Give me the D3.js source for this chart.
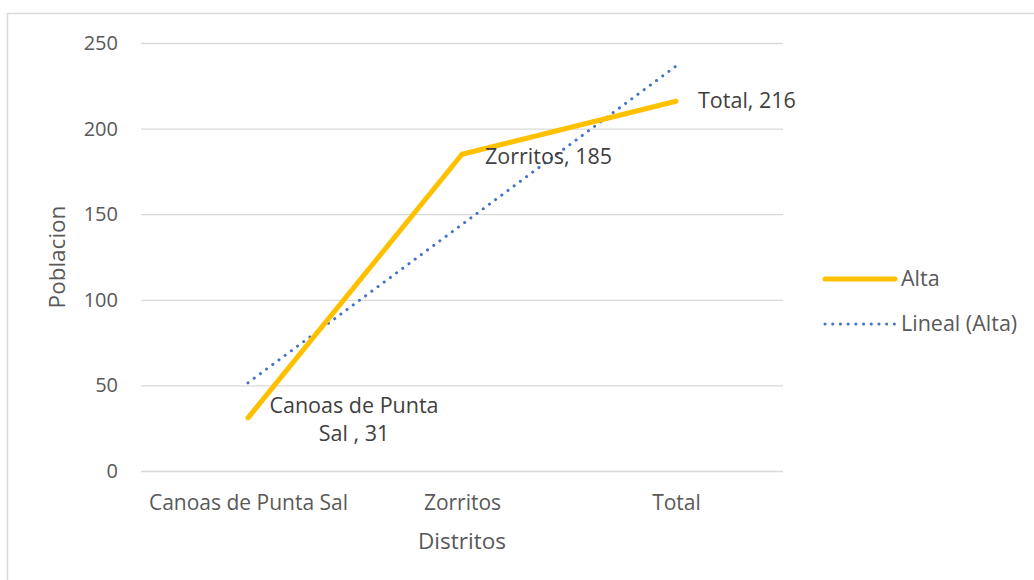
<!DOCTYPE html>
<meta charset="utf-8">
<html>
<head>
  <script src="https://d3js.org/d3.v7.min.js" charset="utf-8"></script>
</head>
<style>
* { font-family: "Open Sans", sans-serif; }
body { margin: 0; background-color: white; }
.tick text { fill: #595959; font-size: 20px; }
.xaxis .tick text { font-size: 21px; }
.label { fill: #595959; font-size: 22.5px; text-anchor: middle; }
.dlabel { fill: #404040; font-size: 21.5px; }
.legend { fill: #595959; font-size: 21.5px; }
</style>
<body>
<div id="container"></div>
<script>
var categories = ["Canoas de Punta Sal", "Zorritos", "Total"];
var alta = [31, 185, 216];
// trendline values (Lineal (Alta))
var trend = [51.5, 144, 236.5];
var yTicks = [0, 50, 100, 150, 200, 250];

var width = 1034, height = 580;
var margin = {left: 141, top: 43, right: 251, bottom: 109};

var svg = d3.select("#container").append("svg")
    .attr("width", width)
    .attr("height", height);

// chart frame
svg.append("rect")
   .attr("x", 7.5).attr("y", 13.5)
   .attr("width", width + 10).attr("height", height + 10)
   .attr("fill", "none").attr("stroke", "#d9d9d9").attr("stroke-width", 1.5);

var xScale = d3.scalePoint()
    .domain(categories)
    .range([margin.left, width - margin.right])
    .padding(0.5);

var yScale = d3.scaleLinear()
    .domain([0, 250])
    .range([height - margin.bottom, margin.top]);

// grid + y axis
var yAxis = d3.axisLeft(yScale).tickValues(yTicks)
    .tickSize(-(width - margin.left - margin.right)).tickPadding(23);
var gy = svg.append("g")
    .attr("transform", "translate(" + margin.left + ",0)")
    .call(yAxis);
gy.select(".domain").remove();
gy.selectAll(".tick line").attr("stroke", "#d9d9d9").attr("stroke-width", 1.3);

// x axis (labels only)
var xAxis = d3.axisBottom(xScale).tickSize(0).tickPadding(24);
var gx = svg.append("g")
    .attr("class", "xaxis")
    .attr("transform", "translate(0," + (height - margin.bottom) + ")")
    .call(xAxis);
gx.select(".domain").remove();

// trendline
var trendLine = d3.line()
    .x((d, i) => xScale(categories[i]))
    .y(d => yScale(d));
svg.append("path")
   .datum(trend)
   .attr("d", trendLine)
   .attr("fill", "none")
   .attr("stroke", "#4472c4")
   .attr("stroke-width", 3)
   .attr("stroke-linecap", "round")
   .attr("stroke-dasharray", "0.1 7.6");

// data series
var line = d3.line()
    .x((d, i) => xScale(categories[i]))
    .y(d => yScale(d));
svg.append("path")
   .datum(alta)
   .attr("d", line)
   .attr("fill", "none")
   .attr("stroke", "#ffc000")
   .attr("stroke-width", 5)
   .attr("stroke-linecap", "round")
   .attr("stroke-linejoin", "round");

// data labels
var c0 = xScale(categories[0]), c1 = xScale(categories[1]), c2 = xScale(categories[2]);
var lab0 = svg.append("text").attr("class", "dlabel").attr("text-anchor", "middle");
lab0.append("tspan").attr("x", c0 + 106).attr("y", yScale(alta[0]) - 5).text("Canoas de Punta");
lab0.append("tspan").attr("x", c0 + 106).attr("y", yScale(alta[0]) + 23).text("Sal , 31");
svg.append("text").attr("class", "dlabel")
   .attr("x", c1 + 23).attr("y", yScale(alta[1]) + 10)
   .text(categories[1] + ", " + alta[1]);
svg.append("text").attr("class", "dlabel")
   .attr("x", c2 + 22).attr("y", yScale(alta[2]) + 7)
   .text(categories[2] + ", " + alta[2]);

// axis titles
svg.append("text").attr("class", "label")
   .attr("x", margin.left + (width - margin.left - margin.right) / 2)
   .attr("y", 549)
   .text("Distritos");
svg.append("text").attr("class", "label")
   .attr("transform", "translate(65,257) rotate(-90)")
   .text("Poblacion");

// legend
var lx = 825;
svg.append("line").attr("x1", lx).attr("x2", lx + 70).attr("y1", 279).attr("y2", 279)
   .attr("stroke", "#ffc000").attr("stroke-width", 5).attr("stroke-linecap", "round");
svg.append("text").attr("class", "legend").attr("x", lx + 76).attr("y", 286).text("Alta");
svg.append("line").attr("x1", lx).attr("x2", lx + 70).attr("y1", 324).attr("y2", 324)
   .attr("stroke", "#4472c4").attr("stroke-width", 3).attr("stroke-linecap", "round")
   .attr("stroke-dasharray", "0.1 7.6");
svg.append("text").attr("class", "legend").attr("x", lx + 76).attr("y", 331).text("Lineal (Alta)");
</script>
</body>
</html>
